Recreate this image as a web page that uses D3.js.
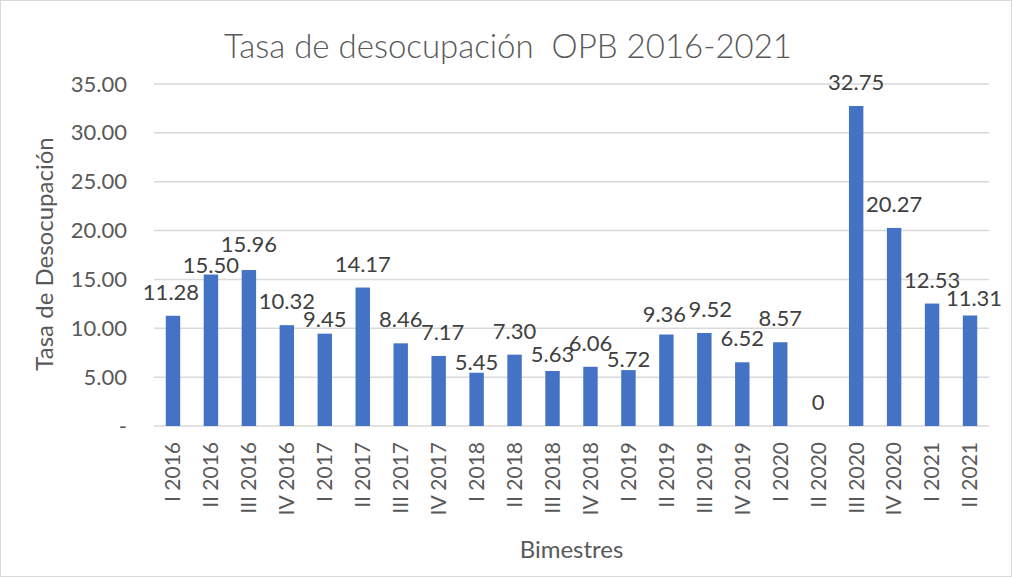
<!DOCTYPE html>
<html>
<head>
<meta charset="utf-8">
<script src="https://cdn.jsdelivr.net/npm/d3@7"></script>
<style>
  html, body { margin: 0; padding: 0; background: #fff; }
  svg { display: block; }
</style>
</head>
<body>
<svg id="chart" width="1012" height="577"></svg>
<script>
const categories = ["I 2016","II 2016","III 2016","IV 2016","I 2017","II 2017","III 2017","IV 2017",
  "I 2018","II 2018","III 2018","IV 2018","I 2019","II 2019","III 2019","IV 2019",
  "I 2020","II 2020","III 2020","IV 2020","I 2021","II 2021"];
const values = [11.28,15.50,15.96,10.32,9.45,14.17,8.46,7.17,5.45,7.30,5.63,6.06,5.72,9.36,9.52,6.52,8.57,0,32.75,20.27,12.53,11.31];
const valueLabels = ["11.28","15.50","15.96","10.32","9.45","14.17","8.46","7.17","5.45","7.30","5.63","6.06","5.72","9.36","9.52","6.52","8.57","0","32.75","20.27","12.53","11.31"];
const yTicks = [0,5,10,15,20,25,30,35];
const yTickLabels = ["-","5.00","10.00","15.00","20.00","25.00","30.00","35.00"];
const titleText = "Tasa de desocupación  OPB 2016-2021";
const yTitle = "Tasa de Desocupación";
const xTitle = "Bimestres";
// manual label nudges (px) for labels that Excel shifted to avoid collisions
const labelNudgeY = {"II 2016":14,"III 2016":-2,"I 2017":9,"I 2018":13,"III 2018":7,"I 2019":13,"II 2019":3,"II 2021":7};
const labelNudgeX = {"I 2016":-2,"IV 2017":4,"II 2019":-2,"III 2019":6,"II 2021":4};

const svg = d3.select("#chart");
const W = 1012, H = 577;
const font = "Lato, 'Open Sans', sans-serif";
const m = {left: 154, right: 1012 - 989, top: 84, bottom: 577 - 426};

svg.append("rect").attr("x", 0.5).attr("y", 0.5).attr("width", W - 1).attr("height", H - 1)
  .attr("fill", "#fff").attr("stroke", "#d9d9d9").attr("stroke-width", 1);

const x = d3.scaleBand().domain(categories).range([m.left, W - m.right]).paddingInner(0.62).paddingOuter(0.31);
const y = d3.scaleLinear().domain([0, 35]).range([H - m.bottom, m.top]);

// gridlines
svg.append("g").selectAll("line").data(yTicks).join("line")
  .attr("x1", m.left).attr("x2", W - m.right)
  .attr("y1", d => y(d)).attr("y2", d => y(d))
  .attr("stroke", "#d9d9d9").attr("stroke-width", 1.5);

// y axis labels
const yAxis = d3.axisLeft(y).tickValues(yTicks).tickFormat((d, i) => yTickLabels[i]).tickSize(0).tickPadding(27);
const gy = svg.append("g").attr("transform", `translate(${m.left},0)`).call(yAxis);
gy.select(".domain").remove();
gy.selectAll("text").attr("font-family", font).attr("font-size", 22).attr("fill", "#595959");

// bars
svg.append("g").selectAll("rect").data(values).join("rect")
  .attr("x", (d, i) => x(categories[i]))
  .attr("width", x.bandwidth())
  .attr("y", d => y(d))
  .attr("height", d => y(0) - y(d))
  .attr("fill", "#4472c4");

// value labels
svg.append("g").selectAll("text").data(values).join("text")
  .attr("x", (d, i) => x(categories[i]) + x.bandwidth() / 2 + (labelNudgeX[categories[i]] || 0))
  .attr("y", (d, i) => y(d) - 16 + (labelNudgeY[categories[i]] || 0))
  .attr("text-anchor", "middle")
  .attr("font-family", font).attr("font-size", 22).attr("fill", "#404040")
  .text((d, i) => valueLabels[i]);

// x axis
const xAxis = d3.axisBottom(x).tickSize(0).tickPadding(0);
const gx = svg.append("g").attr("transform", `translate(0,${y(0)})`).call(xAxis);
gx.select(".domain").remove();
gx.selectAll("text")
  .attr("font-family", font).attr("font-size", 21).attr("fill", "#595959")
  .attr("transform", "rotate(-90)")
  .attr("text-anchor", "end")
  .attr("dy", "0.35em")
  .attr("x", -16).attr("y", 0);

// titles
svg.append("text").attr("x", 508).attr("y", 58).attr("text-anchor", "middle")
  .style("white-space", "pre").attr("xml:space", "preserve")
  .attr("font-family", font).attr("font-weight", 300).attr("font-size", 33).attr("fill", "#595959")
  .text(titleText);

svg.append("text").attr("transform", `translate(53,254) rotate(-90)`).attr("text-anchor", "middle")
  .attr("font-family", font).attr("font-size", 24).attr("fill", "#595959").text(yTitle);

svg.append("text").attr("x", (m.left + W - m.right) / 2).attr("y", 558).attr("text-anchor", "middle")
  .attr("font-family", font).attr("font-size", 24).attr("fill", "#595959").text(xTitle);
</script>
</body>
</html>
